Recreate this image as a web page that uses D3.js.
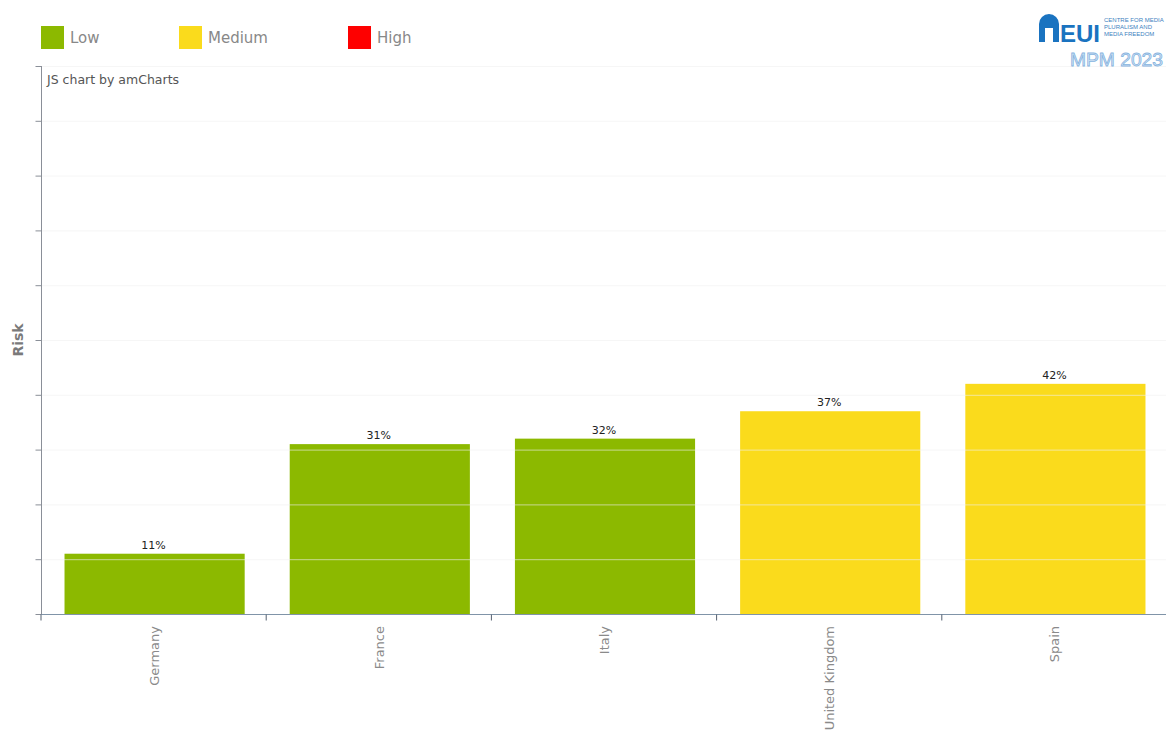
<!DOCTYPE html>
<html><head><meta charset="utf-8">
<script src="https://cdn.jsdelivr.net/npm/d3@7"></script>
<style>body{margin:0;background:#fff;overflow:hidden}svg{display:block;font-family:Verdana,"DejaVu Sans",sans-serif}</style>
</head><body><svg id="c" width="1166" height="737"></svg>
<script>
const categories = ["Germany","France","Italy","United Kingdom","Spain"];
const values = [11,31,32,37,42];
const riskLevels = ["Low","Low","Low","Medium","Medium"];
const legendLabels = ["Low","Medium","High"];
const legendColors = ["#8cb900","#fadb1c","#fe0000"];
const yTicks = [0,10,20,30,40,50,60,70,80,90,100];

(function(){
const svg = d3.select("#c");
const pL = 41, pR = 1167, pT = 66, pB = 614;
const xb = d3.scaleBand().domain(categories).range([pL, pR]);
const y = d3.scaleLinear().domain([0,100]).range([pB, pT]);
const color = d3.scaleOrdinal().domain(legendLabels).range(legendColors);

// bars
svg.append("g").selectAll("rect").data(categories).join("rect")
  .attr("x", d => xb(d) + xb.bandwidth()*0.1 + 1)
  .attr("width", xb.bandwidth()*0.8)
  .attr("y", (d,i) => y(values[i]))
  .attr("height", (d,i) => y(0) - y(values[i]))
  .attr("fill", (d,i) => color(riskLevels[i]));

// gridlines over bars
svg.append("g").selectAll("line").data(yTicks.slice(1)).join("line")
  .attr("x1", pL).attr("x2", pR)
  .attr("y1", d => y(d)+0.5).attr("y2", d => y(d)+0.5)
  .attr("stroke", "#f0f0f0").attr("stroke-opacity", 0.6);

// y axis
const ya = svg.append("g").attr("transform", `translate(${pL+0.5},0)`)
  .call(d3.axisLeft(y).tickValues(yTicks).tickSize(6).tickFormat(""));
ya.select(".domain").attr("stroke", "#8a8f98").attr("d", `M0,${pT}V${pB}`);
ya.selectAll(".tick line").attr("stroke", "#8a8f98");

// x axis
const xa = svg.append("g").attr("transform", `translate(0,${pB+0.5})`)
  .call(d3.axisBottom(xb).tickSize(6).tickFormat(""));
xa.select(".domain").attr("stroke", "#8094a8").attr("d", `M${pL},0H${pR}`);
xa.selectAll(".tick line").attr("stroke", "#556070")
  .attr("transform", "translate(" + (-xb.bandwidth()/2) + ",0)");

// category labels
svg.append("g").selectAll("text").data(categories).join("text")
  .attr("transform", d => `translate(${xb(d)+xb.bandwidth()/2+5},${pB+12}) rotate(-90)`)
  .attr("text-anchor", "end")
  .attr("font-size", 13).attr("fill", "#8a8a8a")
  .text(d => d);

// value labels
svg.append("g").selectAll("text").data(categories).join("text")
  .attr("x", d => xb(d)+xb.bandwidth()/2)
  .attr("y", (d,i) => y(values[i]) - 5)
  .attr("text-anchor", "middle").attr("font-size", 11).attr("fill", "#222")
  .text((d,i) => values[i] + "%");

// y title
svg.append("text").attr("transform", "translate(23,340) rotate(-90)")
  .attr("text-anchor", "middle").attr("font-size", 14).attr("font-weight", "bold")
  .attr("fill", "#7a7a7a").text("Risk");

// credit
svg.append("text").attr("x", 47).attr("y", 84).attr("font-size", 12.5).attr("fill", "#555").text("JS chart by amCharts");

// legend
const legX = [41, 179, 348];
const lg = svg.append("g").selectAll("g").data(legendLabels).join("g")
  .attr("transform", (d,i) => `translate(${legX[i]},26)`);
lg.append("rect").attr("width", 23).attr("height", 23).attr("fill", d => color(d));
lg.append("text").attr("x", 29).attr("y", 17).attr("font-size", 15).attr("fill", "#888").text(d => d);

// logo
const logo = svg.append("g");
logo.append("path").attr("d", "M1039,42 V24 A10,10 0 0 1 1059,24 V42 H1053 V28 H1045 V42 Z").attr("fill", "#1a73c0");
logo.append("text").attr("x", 1060).attr("y", 42).attr("font-size", 24).attr("font-weight", "bold")
  .attr("font-family", "Liberation Sans, Arial, sans-serif").attr("fill", "#1a73c0").text("EUI");
["CENTRE FOR MEDIA","PLURALISM AND","MEDIA FREEDOM"].forEach((t,i) => {
  logo.append("text").attr("x", 1104).attr("y", 22 + i*7).attr("font-size", 6)
    .attr("font-family", "Liberation Sans, Arial, sans-serif").attr("fill", "#3d7fc0").text(t);
});
logo.append("text").attr("x", 1070).attr("y", 66).attr("font-size", 19)
  .attr("font-family", "Liberation Sans, Arial, sans-serif")
  .attr("fill", "#dbe8f6").attr("stroke", "#86b4e0").attr("stroke-width", 0.8)
  .attr("textLength", 93).attr("lengthAdjust", "spacingAndGlyphs").text("MPM 2023");
})();
</script></body></html>
